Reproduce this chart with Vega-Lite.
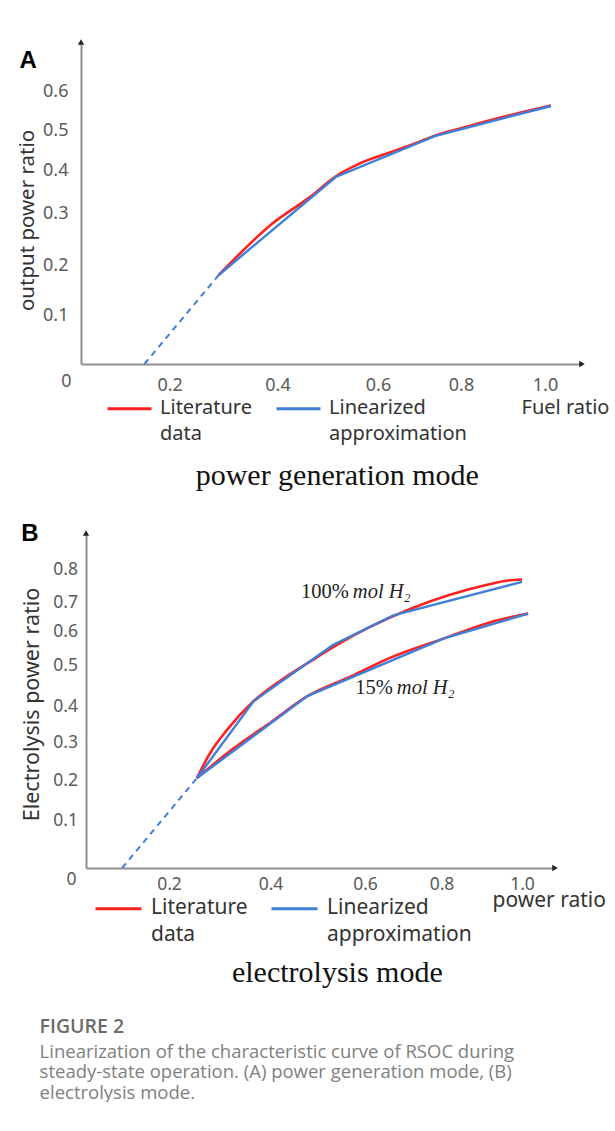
{
  "$schema": "https://vega.github.io/schema/vega-lite/v6.json",
  "padding": {"left": 17, "top": 39, "right": 0, "bottom": 0},
  "spacing": 31,
  "background": "white",
  "datasets": {
    "A_lit": [
      {"x": 0.291, "y": 0.180, "series": "Literature data"},
      {"x": 0.390, "y": 0.280, "series": "Literature data"},
      {"x": 0.467, "y": 0.340, "series": "Literature data"},
      {"x": 0.514, "y": 0.384, "series": "Literature data"},
      {"x": 0.561, "y": 0.415, "series": "Literature data"},
      {"x": 0.610, "y": 0.438, "series": "Literature data"},
      {"x": 0.676, "y": 0.462, "series": "Literature data"},
      {"x": 0.737, "y": 0.487, "series": "Literature data"},
      {"x": 0.818, "y": 0.511, "series": "Literature data"},
      {"x": 0.911, "y": 0.537, "series": "Literature data"},
      {"x": 1.014, "y": 0.563, "series": "Literature data"}
    ],
    "A_lin": [
      {"x": 0.291, "y": 0.180, "series": "Linearized approximation"},
      {"x": 0.516, "y": 0.384, "series": "Linearized approximation"},
      {"x": 0.737, "y": 0.486, "series": "Linearized approximation"},
      {"x": 1.014, "y": 0.562, "series": "Linearized approximation"}
    ],
    "A_dash": [
      {"x": 0.143, "y": 0.0},
      {"x": 0.291, "y": 0.180}
    ],
    "B_lit": [
      {"x": 0.255, "y": 0.205, "curve": "100% mol H2", "series": "Literature data"},
      {"x": 0.281, "y": 0.271, "curve": "100% mol H2", "series": "Literature data"},
      {"x": 0.314, "y": 0.333, "curve": "100% mol H2", "series": "Literature data"},
      {"x": 0.367, "y": 0.412, "curve": "100% mol H2", "series": "Literature data"},
      {"x": 0.420, "y": 0.461, "curve": "100% mol H2", "series": "Literature data"},
      {"x": 0.486, "y": 0.512, "curve": "100% mol H2", "series": "Literature data"},
      {"x": 0.537, "y": 0.556, "curve": "100% mol H2", "series": "Literature data"},
      {"x": 0.613, "y": 0.614, "curve": "100% mol H2", "series": "Literature data"},
      {"x": 0.718, "y": 0.676, "curve": "100% mol H2", "series": "Literature data"},
      {"x": 0.819, "y": 0.721, "curve": "100% mol H2", "series": "Literature data"},
      {"x": 0.916, "y": 0.753, "curve": "100% mol H2", "series": "Literature data"},
      {"x": 0.965, "y": 0.765, "curve": "100% mol H2", "series": "Literature data"},
      {"x": 1.000, "y": 0.768, "curve": "100% mol H2", "series": "Literature data"},
      {"x": 0.255, "y": 0.205, "curve": "15% mol H2", "series": "Literature data"},
      {"x": 0.326, "y": 0.282, "curve": "15% mol H2", "series": "Literature data"},
      {"x": 0.403, "y": 0.357, "curve": "15% mol H2", "series": "Literature data"},
      {"x": 0.478, "y": 0.424, "curve": "15% mol H2", "series": "Literature data"},
      {"x": 0.570, "y": 0.472, "curve": "15% mol H2", "series": "Literature data"},
      {"x": 0.665, "y": 0.521, "curve": "15% mol H2", "series": "Literature data"},
      {"x": 0.808, "y": 0.579, "curve": "15% mol H2", "series": "Literature data"},
      {"x": 0.916, "y": 0.628, "curve": "15% mol H2", "series": "Literature data"},
      {"x": 1.015, "y": 0.660, "curve": "15% mol H2", "series": "Literature data"}
    ],
    "B_lin": [
      {"x": 0.255, "y": 0.205, "curve": "100% mol H2", "series": "Linearized approximation"},
      {"x": 0.367, "y": 0.412, "curve": "100% mol H2", "series": "Linearized approximation"},
      {"x": 0.532, "y": 0.559, "curve": "100% mol H2", "series": "Linearized approximation"},
      {"x": 0.676, "y": 0.655, "curve": "100% mol H2", "series": "Linearized approximation"},
      {"x": 1.000, "y": 0.761, "curve": "100% mol H2", "series": "Linearized approximation"},
      {"x": 0.255, "y": 0.205, "curve": "15% mol H2", "series": "Linearized approximation"},
      {"x": 0.478, "y": 0.424, "curve": "15% mol H2", "series": "Linearized approximation"},
      {"x": 0.808, "y": 0.579, "curve": "15% mol H2", "series": "Linearized approximation"},
      {"x": 1.015, "y": 0.660, "curve": "15% mol H2", "series": "Linearized approximation"}
    ],
    "B_dash": [
      {"x": 0.087, "y": 0.0},
      {"x": 0.255, "y": 0.205}
    ]
  },
  "title": {
    "text": "FIGURE 2",
    "subtitle": [
      "Linearization of the characteristic curve of RSOC during",
      "steady-state operation. (A) power generation mode, (B)",
      "electrolysis mode."
    ],
    "orient": "bottom",
    "anchor": "start",
    "frame": "bounds",
    "font": "Open Sans",
    "fontSize": 19.5,
    "fontWeight": 600,
    "color": "#6b6b6b",
    "subtitleFont": "Open Sans",
    "subtitleFontSize": 18.5,
    "subtitleColor": "#808080",
    "subtitleLineHeight": 20.5,
    "subtitlePadding": 5,
    "offset": 30,
    "dx": 22
  },
  "resolve": {
    "scale": {"x": "independent", "y": "independent", "color": "independent"},
    "legend": {"color": "independent"}
  },
  "vconcat": [
    {
      "title": {
        "text": "power generation mode",
        "orient": "bottom",
        "anchor": "middle",
        "font": "Liberation Serif",
        "fontSize": 30,
        "fontWeight": "normal",
        "color": "#111111",
        "offset": 17,
        "dx": 24
      },
      "vconcat": [
        {
          "width": 501,
          "height": 322,
          "title": {
            "text": "A",
            "anchor": "start",
            "frame": "bounds",
            "font": "Liberation Sans",
            "fontSize": 24,
            "fontWeight": "bold",
            "color": "#000000",
            "offset": -34,
            "dx": 2
          },
          "layer": [
            {
              "data": {"name": "A_lit"},
              "mark": {"type": "line", "interpolate": "monotone", "strokeWidth": 2.6},
              "encoding": {
                "x": {
                  "field": "x", "type": "quantitative",
                  "scale": {"domain": [0, 0.2, 0.4, 0.6, 0.8, 1.0, 1.088], "range": [0, 88.7, 196.5, 297, 380, 464, 501], "nice": false, "zero": false},
                  "axis": {
                    "values": [0, 0.2, 0.4, 0.6, 0.8, 1.0],
                    "labelExpr": "datum.value == 0 ? '0' : format(datum.value, '.1f')",
                    "labelFontSize": 18,
                    "labelBaseline": "middle",
                    "labelPadding": {"condition": {"test": "datum.value == 0", "value": 17}, "value": 21.5},
                    "labelOffset": {"condition": {"test": "datum.value == 0", "value": -15}, "value": 0},
                    "title": "Fuel ratio",
                    "titleX": 440,
                    "titleY": 43,
                    "titleAlign": "left",
                    "titleBaseline": "middle",
                    "titleFontSize": 20
                  }
                },
                "y": {
                  "field": "y", "type": "quantitative",
                  "scale": {"domain": [0, 0.1, 0.2, 0.3, 0.4, 0.5, 0.6, 0.724], "range": [322, 273, 223, 171.5, 128, 88.5, 49, 0], "nice": false, "zero": false},
                  "axis": {
                    "values": [0.1, 0.2, 0.3, 0.4, 0.5, 0.6],
                    "format": ".1f",
                    "labelFontSize": 18,
                    "labelPadding": 13,
                    "title": "output power ratio",
                    "titleFontSize": 20.5,
                    "titlePadding": 5,
                    "titleY": 178
                  }
                },
                "color": {
                  "field": "series", "type": "nominal",
                  "scale": {"domain": ["Literature data", "Linearized approximation"], "range": ["#ff2020", "#3d7fd9"]},
                  "legend": {
                    "orient": "none",
                    "legendX": 25,
                    "legendY": 343,
                    "direction": "horizontal",
                    "title": null,
                    "padding": 0,
                    "symbolType": "stroke",
                    "symbolSize": 1936,
                    "symbolStrokeWidth": 3,
                    "labelFont": "Noto Sans",
                    "labelFontSize": 20,
                    "labelColor": "#333333",
                    "labelBaseline": "alphabetic",
                    "labelOffset": 7,
                    "columnPadding": 18,
                    "labelLimit": 400,
                    "labelExpr": "datum.label == 'Literature data' ? ['Literature', '     data'] : ['Linearized', 'approximation']",
                    "encode": {"labels": {"update": {"lineHeight": {"value": 26}, "dy": {"value": 5}}}}
                  }
                }
              }
            },
            {
              "data": {"name": "A_lin"},
              "mark": {"type": "line", "strokeWidth": 2.4},
              "encoding": {
                "x": {"field": "x", "type": "quantitative"},
                "y": {"field": "y", "type": "quantitative"},
                "color": {"field": "series", "type": "nominal"}
              }
            },
            {
              "data": {"name": "A_dash"},
              "mark": {"type": "line", "color": "#3d7fd9", "strokeWidth": 2, "strokeDash": [6, 5]},
              "encoding": {
                "x": {"field": "x", "type": "quantitative"},
                "y": {"field": "y", "type": "quantitative"}
              }
            },
            {
              "data": {"values": [{}]},
              "mark": {"type": "point", "shape": "triangle-up", "filled": true, "color": "#222222", "size": 40, "opacity": 1},
              "encoding": {
                "x": {"datum": 0, "type": "quantitative"},
                "y": {"datum": 0.724, "type": "quantitative"}
              }
            },
            {
              "data": {"values": [{}]},
              "mark": {"type": "point", "shape": "triangle-right", "filled": true, "color": "#222222", "size": 40, "opacity": 1},
              "encoding": {
                "x": {"datum": 1.088, "type": "quantitative"},
                "y": {"datum": 0, "type": "quantitative"}
              }
            }
          ]
        }
      ]
    },
    {
      "title": {
        "text": "electrolysis mode",
        "orient": "bottom",
        "anchor": "middle",
        "font": "Liberation Serif",
        "fontSize": 30,
        "fontWeight": "normal",
        "color": "#111111",
        "offset": 13,
        "dx": 24
      },
      "vconcat": [
        {
          "width": 474,
          "height": 335,
          "title": {
            "text": "B",
            "anchor": "start",
            "frame": "bounds",
            "font": "Liberation Sans",
            "fontSize": 24,
            "fontWeight": "bold",
            "color": "#000000",
            "offset": -16,
            "dx": 0
          },
          "layer": [
            {
              "data": {"name": "B_lit"},
              "mark": {"type": "line", "interpolate": "monotone", "strokeWidth": 2.6},
              "encoding": {
                "x": {
                  "field": "x", "type": "quantitative",
                  "scale": {"domain": [0, 0.2, 0.4, 0.6, 0.8, 1.0, 1.081], "range": [5, 88, 189.5, 284, 360.5, 441, 474], "nice": false, "zero": false},
                  "axis": {
                    "values": [0, 0.2, 0.4, 0.6, 0.8, 1.0],
                    "labelExpr": "datum.value == 0 ? '0' : format(datum.value, '.1f')",
                    "labelFontSize": 17.5,
                    "labelBaseline": "middle",
                    "labelPadding": {"condition": {"test": "datum.value == 0", "value": 11}, "value": 16},
                    "labelOffset": {"condition": {"test": "datum.value == 0", "value": -15}, "value": 0},
                    "title": "power ratio",
                    "titleX": 411,
                    "titleY": 32,
                    "titleAlign": "left",
                    "titleBaseline": "middle",
                    "titleFontSize": 21
                  }
                },
                "y": {
                  "field": "y", "type": "quantitative",
                  "scale": {"domain": [0, 0.1, 0.2, 0.3, 0.4, 0.5, 0.6, 0.7, 0.8, 0.909], "range": [335, 287, 247, 209, 173, 132, 98, 69, 36, 0], "nice": false, "zero": false},
                  "axis": {
                    "values": [0.1, 0.2, 0.3, 0.4, 0.5, 0.6, 0.7, 0.8],
                    "format": ".1f",
                    "offset": -5,
                    "labelFontSize": 17.5,
                    "labelPadding": 8.5,
                    "title": "Electrolysis power ratio",
                    "titleFontSize": 21.5,
                    "titlePadding": 9.5,
                    "titleY": 171
                  }
                },
                "detail": {"field": "curve"},
                "color": {
                  "field": "series", "type": "nominal",
                  "scale": {"domain": ["Literature data", "Linearized approximation"], "range": ["#ff2020", "#3d7fd9"]},
                  "legend": {
                    "orient": "none",
                    "legendX": 13,
                    "legendY": 351,
                    "direction": "horizontal",
                    "title": null,
                    "padding": 0,
                    "symbolType": "stroke",
                    "symbolSize": 2116,
                    "symbolStrokeWidth": 3,
                    "labelFont": "Noto Sans",
                    "labelFontSize": 21,
                    "labelColor": "#333333",
                    "labelBaseline": "alphabetic",
                    "labelOffset": 8,
                    "columnPadding": 17,
                    "labelLimit": 400,
                    "labelExpr": "datum.label == 'Literature data' ? ['Literature', '     data'] : ['Linearized', 'approximation']",
                    "encode": {"labels": {"update": {"lineHeight": {"value": 27}, "dy": {"value": 5}}}}
                  }
                }
              }
            },
            {
              "data": {"name": "B_lin"},
              "mark": {"type": "line", "strokeWidth": 2.4},
              "encoding": {
                "x": {"field": "x", "type": "quantitative"},
                "y": {"field": "y", "type": "quantitative"},
                "detail": {"field": "curve"},
                "color": {"field": "series", "type": "nominal"}
              }
            },
            {
              "data": {"name": "B_dash"},
              "mark": {"type": "line", "color": "#3d7fd9", "strokeWidth": 2, "strokeDash": [6, 5]},
              "encoding": {
                "x": {"field": "x", "type": "quantitative"},
                "y": {"field": "y", "type": "quantitative"}
              }
            },
            {
              "data": {"values": [{}]},
              "mark": {"type": "point", "shape": "triangle-up", "filled": true, "color": "#222222", "size": 40, "opacity": 1},
              "encoding": {
                "x": {"datum": 0, "type": "quantitative"},
                "y": {"datum": 0.909, "type": "quantitative"}
              }
            },
            {
              "data": {"values": [{}]},
              "mark": {"type": "point", "shape": "triangle-right", "filled": true, "color": "#222222", "size": 40, "opacity": 1},
              "encoding": {
                "x": {"datum": 1.081, "type": "quantitative"},
                "y": {"datum": 0, "type": "quantitative"}
              }
            },
            {
              "data": {"values": [{}]},
              "mark": {"type": "text", "text": "100%", "align": "right", "baseline": "middle", "dx": -2, "font": "Liberation Serif", "fontSize": 20.5, "color": "#222222"},
              "encoding": {
                "x": {"datum": 0.570, "type": "quantitative"},
                "y": {"datum": 0.730, "type": "quantitative"}
              }
            },
            {
              "data": {"values": [{}]},
              "mark": {"type": "text", "text": "mol   H₂", "align": "left", "baseline": "middle", "dx": 2, "font": "Liberation Serif", "fontSize": 20.5, "fontStyle": "italic", "color": "#222222"},
              "encoding": {
                "x": {"datum": 0.570, "type": "quantitative"},
                "y": {"datum": 0.730, "type": "quantitative"}
              }
            },
            {
              "data": {"values": [{}]},
              "mark": {"type": "text", "text": "15%", "align": "right", "baseline": "middle", "dx": -2, "font": "Liberation Serif", "fontSize": 20.5, "color": "#222222"},
              "encoding": {
                "x": {"datum": 0.678, "type": "quantitative"},
                "y": {"datum": 0.444, "type": "quantitative"}
              }
            },
            {
              "data": {"values": [{}]},
              "mark": {"type": "text", "text": "mol   H₂", "align": "left", "baseline": "middle", "dx": 2, "font": "Liberation Serif", "fontSize": 20.5, "fontStyle": "italic", "color": "#222222"},
              "encoding": {
                "x": {"datum": 0.678, "type": "quantitative"},
                "y": {"datum": 0.444, "type": "quantitative"}
              }
            }
          ]
        }
      ]
    }
  ],
  "config": {
    "font": "Noto Sans",
    "view": {"stroke": null},
    "axis": {
      "grid": false,
      "ticks": false,
      "domainColor": "#8f8f8f",
      "domainWidth": 2,
      "labelFont": "Noto Sans",
      "labelColor": "#5a5a5a",
      "titleFont": "Noto Sans",
      "titleFontWeight": "normal",
      "titleColor": "#333333",
      "labelFlush": false,
      "labelOverlap": false
    }
  }
}
